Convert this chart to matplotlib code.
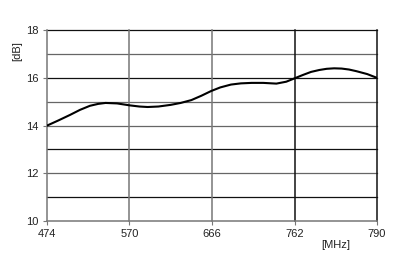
import matplotlib.pyplot as plt

plt.rcParams['font.family'] = ['Liberation Sans', 'DejaVu Sans']

# frequency tick labels (equally spaced categories)
freq_labels = ['474', '570', '666', '762', '790']

# gain curve (x in tick-index units, y in dB)
curve_x = [0.0, 0.14, 0.28, 0.40, 0.52, 0.62, 0.71, 0.85, 1.0, 1.12, 1.22, 1.35, 1.50,
           1.62, 1.75, 1.87, 1.99, 2.10, 2.23, 2.35, 2.48, 2.62, 2.78, 2.90, 3.0,
           3.10, 3.20, 3.30, 3.39, 3.48, 3.57, 3.66, 3.75, 3.88, 4.0]
curve_db = [14.0, 14.22, 14.45, 14.66, 14.83, 14.91, 14.95, 14.93, 14.85, 14.8, 14.78, 14.8, 14.87,
            14.95, 15.07, 15.25, 15.45, 15.6, 15.72, 15.77, 15.79, 15.79, 15.76, 15.84, 15.98,
            16.12, 16.25, 16.33, 16.38, 16.4, 16.39, 16.35, 16.28, 16.16, 16.0]

fig = plt.figure(figsize=(4.05, 2.69), dpi=100)
ax = fig.add_axes([0.116, 0.178, 0.815, 0.71])

for y in range(11, 19):
    c = '#111111' if y in (11, 13, 16, 18) else '#666666'
    ax.axhline(y, color=c, lw=0.9, zorder=1, clip_on=False)
for i in range(1, 5):
    c = '#777777' if i in (1, 2) else '#111111'
    ax.axvline(i, color=c, lw=1.1, zorder=1, clip_on=False)

ax.plot(curve_x, curve_db, color='black', lw=1.5, zorder=3)

ax.set_xlim(0, 4)
ax.set_ylim(10, 18)
ax.set_xticks(range(5))
ax.set_xticklabels(freq_labels)
ax.set_yticks([10, 12, 14, 16, 18])
ax.tick_params(labelsize=8, length=3, color='#777777', pad=3, labelcolor='#222222')
for s in ['top', 'right']:
    ax.spines[s].set_visible(False)
ax.spines['left'].set_color('#777777')
ax.spines['bottom'].set_color('#777777')
ax.spines['left'].set_linewidth(1.1)
ax.spines['bottom'].set_linewidth(1.1)

fig.text(0.042, 0.81, '[dB]', rotation=90, fontsize=8, color='#222222', ha='center', va='center')
fig.text(0.828, 0.09, '[MHz]', fontsize=8, color='#222222', ha='center', va='center')

plt.savefig('out.png', dpi=100)
